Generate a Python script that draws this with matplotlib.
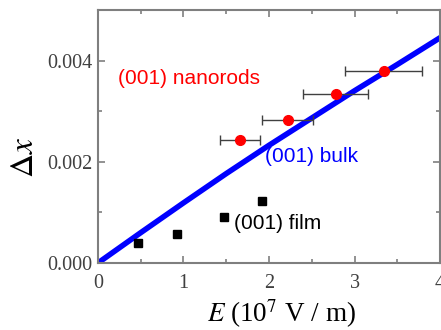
import numpy as np
import matplotlib
matplotlib.use("Agg")
import matplotlib.pyplot as plt

plt.rcParams["mathtext.fontset"] = "stix"

# --------------------------------------------------------------
# Data
# --------------------------------------------------------------
bulk_E = [0.0, 0.5, 1.0, 1.5, 2.0, 2.5, 3.0, 3.5, 4.0, 4.1]
bulk_dx = [0.0, 0.00060, 0.00119, 0.00177, 0.00233, 0.00287, 0.00341, 0.00393, 0.00446, 0.00456]

rods_E = [1.66, 2.22, 2.78, 3.34]
rods_dx = [0.00244, 0.00283, 0.00335, 0.00380]
rods_err = [0.23, 0.30, 0.38, 0.45]

film_E = [0.47, 0.93, 1.47, 1.92]
film_dx = [0.00040, 0.00057, 0.00091, 0.00123]

xticks = [0, 1, 2, 3, 4]
yticks = [0.000, 0.002, 0.004]

# --------------------------------------------------------------
# Plot
# --------------------------------------------------------------
gray = "#7f7f7f"
fig = plt.figure(figsize=(4.41, 3.30), dpi=100)
ax = fig.add_axes([0.222, 0.203, 0.776, 0.767])

ax.plot(bulk_E, bulk_dx, color="#0000ff", lw=4, solid_capstyle="butt", zorder=2)
ax.errorbar(rods_E, rods_dx, xerr=rods_err, fmt="o", color="red", ms=7,
            ecolor="#404040", elinewidth=1, capsize=3.5, capthick=1, zorder=3)
ax.plot(film_E, film_dx, "s", color="black", ms=5.5, zorder=3)

ax.text(1.07, 0.00366, "(001) nanorods", color="red", fontsize=15, family="Liberation Sans",
        ha="center", va="center")
ax.text(2.50, 0.00210, "(001) bulk", color="#0000ff", fontsize=15, family="Liberation Sans",
        ha="center", va="center")
ax.text(2.10, 0.00078, "(001) film", color="black", fontsize=15, family="Liberation Sans",
        ha="center", va="center")

ax.set_xlim(0, 4)
ax.set_ylim(0, 0.00501)
ax.set_xticks(xticks)
ax.set_xticks(np.arange(0.5, 4, 1.0), minor=True)
ax.set_yticks(yticks)
ax.set_yticks([0.001, 0.003, 0.005], minor=True)
ax.set_xticklabels([str(t) for t in xticks])
ax.set_yticklabels(["%.3f" % t for t in yticks])

for s in ax.spines.values():
    s.set_color(gray)
    s.set_linewidth(1.5)
ax.tick_params(which="both", direction="in", top=True, right=True, color=gray,
               labelcolor="#404040", labelsize=14.5, width=1.2)
ax.tick_params(which="major", length=5, pad=4)
ax.tick_params(axis="x", which="major", pad=8)
ax.tick_params(which="minor", length=3)
for lab in ax.get_xticklabels() + ax.get_yticklabels():
    lab.set_family("Liberation Serif")

ax.set_xlabel(r"$E$ (10$^7$ V / m)", family="Liberation Serif", fontsize=19.5)
ax.xaxis.set_label_coords(0.535, -0.2)
ax.xaxis.label.set_va("center")
ax.set_ylabel(r"$\Delta x$", family="Liberation Serif", fontsize=24)
ax.yaxis.set_label_coords(-0.213, 0.415)
ax.yaxis.label.set_va("center")

fig.savefig("out.png", dpi=100)
